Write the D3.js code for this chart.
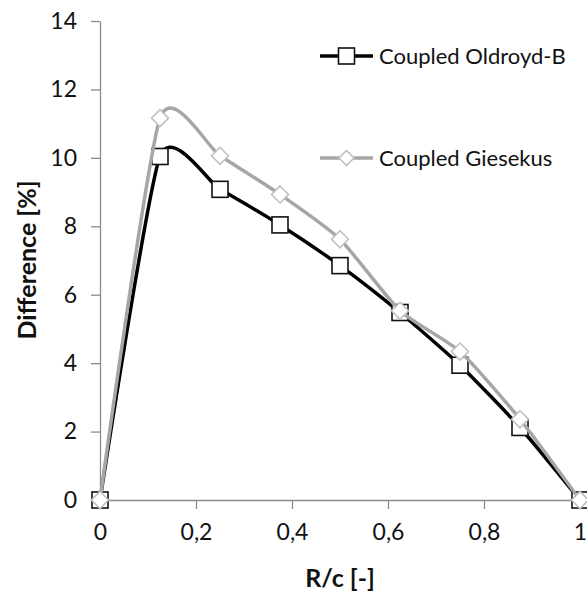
<!DOCTYPE html>
<html><head><meta charset="utf-8">
<script src="https://cdn.jsdelivr.net/npm/d3@7"></script>
<style>body{margin:0;background:#fff}svg{display:block}text{font-family:Lato,"Open Sans",sans-serif;fill:#111}</style>
</head><body>
<svg id="c" width="587" height="595"></svg>
<script>
const xValues = [0, 0.125, 0.25, 0.375, 0.5, 0.625, 0.75, 0.875, 1];
const oldroydB = [0, 10.04, 9.08, 8.04, 6.85, 5.48, 3.94, 2.12, 0];
const giesekus = [0, 11.16, 10.06, 8.93, 7.62, 5.53, 4.34, 2.36, 0];
const seriesNames = ["Coupled Oldroyd-B", "Coupled Giesekus"];
const xTicks = [0, 0.2, 0.4, 0.6, 0.8, 1];
const yTicks = [0, 2, 4, 6, 8, 10, 12, 14];

const svg = d3.select("#c");
const x = d3.scaleLinear().domain([0, 1]).range([100, 580]);
const y = d3.scaleLinear().domain([0, 14]).range([500, 21]);
const axisColor = "#8c8c8c";
const fmt = d => String(d).replace(".", ",");

const gx = svg.append("g").attr("transform", "translate(0,500)")
  .call(d3.axisBottom(x).tickValues(xTicks).tickFormat(fmt).tickSizeOuter(0).tickSizeInner(9).tickPadding(15));
const gy = svg.append("g").attr("transform", "translate(100,0)")
  .call(d3.axisLeft(y).tickValues(yTicks).tickSizeOuter(0).tickSizeInner(9).tickPadding(14));
[gx, gy].forEach(g => {
  g.select(".domain").attr("stroke", axisColor).attr("stroke-width", 1.3);
  g.selectAll(".tick line").attr("stroke", axisColor).attr("stroke-width", 1.3);
  g.selectAll(".tick text").attr("font-size", 23).attr("font-family", "Lato,'Open Sans',sans-serif").attr("fill", "#111");
});
gx.selectAll(".tick line").filter(d => d === 0).remove();

svg.append("text").attr("x", 340).attr("y", 587).attr("text-anchor", "middle")
  .attr("font-size", 25).attr("font-weight", "bold").text("R/c [-]");
svg.append("text").attr("transform", "translate(36,260) rotate(-90)").attr("text-anchor", "middle")
  .attr("font-size", 25).attr("font-weight", "bold").text("Difference [%]");

const line = d3.line().x(d => x(d[0])).y(d => y(d[1])).curve(d3.curveCardinal.tension(0.4));
const dataO = xValues.map((v, i) => [v, oldroydB[i]]);
const dataG = xValues.map((v, i) => [v, giesekus[i]]);

const sq = 16, dm = 17;
function drawSquare(g, cx, cy, s) {
  g.append("rect").attr("x", cx - s / 2).attr("y", cy - s / 2).attr("width", s).attr("height", s)
    .attr("fill", "#fff").attr("stroke", "#111").attr("stroke-width", 1.6);
}
function drawDiamond(g, cx, cy, s) {
  const h = s / 2;
  g.append("path").attr("d", `M${cx},${cy - h}L${cx + h},${cy}L${cx},${cy + h}L${cx - h},${cy}Z`)
    .attr("fill", "#fff").attr("stroke", "#c0c0c0").attr("stroke-width", 1.6);
}

const gO = svg.append("g");
gO.append("path").datum(dataO).attr("d", line).attr("fill", "none").attr("stroke", "#000").attr("stroke-width", 3.5);
dataO.forEach(d => drawSquare(gO, x(d[0]), y(d[1]), sq));

const gG = svg.append("g");
gG.append("path").datum(dataG).attr("d", line).attr("fill", "none").attr("stroke", "#a6a6a6").attr("stroke-width", 3.5);
dataG.forEach(d => drawDiamond(gG, x(d[0]), y(d[1]), dm));

// legend
const leg = svg.append("g");
const ly = [56, 158];
leg.append("line").attr("x1", 320).attr("x2", 373).attr("y1", ly[0]).attr("y2", ly[0]).attr("stroke", "#000").attr("stroke-width", 3.5);
drawSquare(leg, 346.5, ly[0], sq);
leg.append("line").attr("x1", 320).attr("x2", 373).attr("y1", ly[1]).attr("y2", ly[1]).attr("stroke", "#a6a6a6").attr("stroke-width", 3.5);
drawDiamond(leg, 346.5, ly[1], 15);
seriesNames.forEach((n, i) => {
  leg.append("text").attr("x", 379).attr("y", ly[i]).attr("dy", "0.35em").attr("font-size", 22).text(n);
});
</script>
</body></html>
